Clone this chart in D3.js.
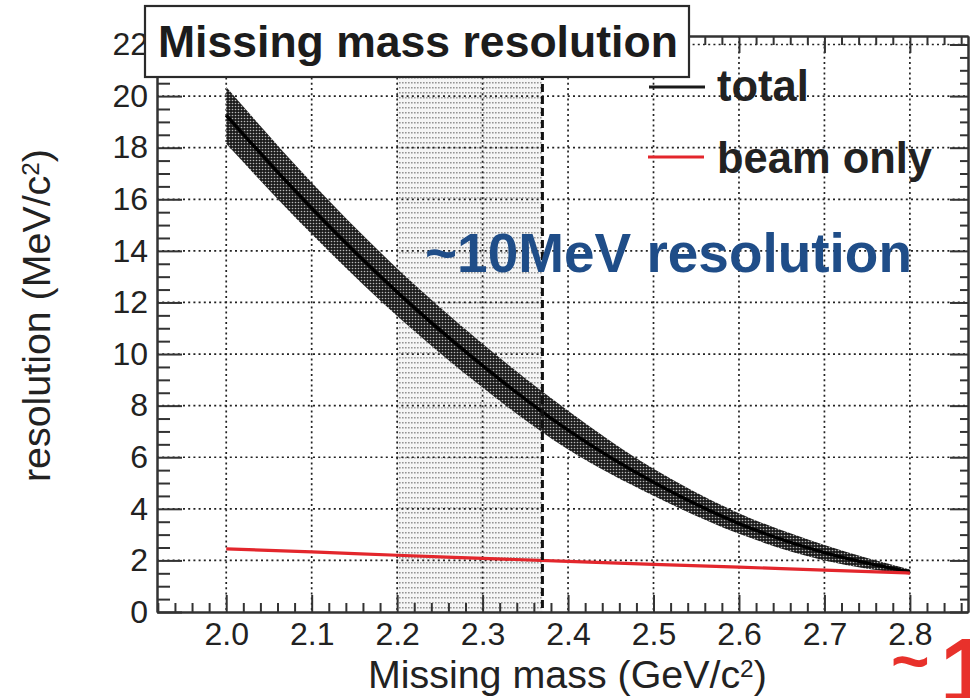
<!DOCTYPE html>
<html><head><meta charset="utf-8">
<script src="https://cdn.jsdelivr.net/npm/d3@7"></script>
<style>html,body{margin:0;padding:0;background:#fff;} svg{display:block;}</style>
</head><body>
<svg id="chart" width="970" height="698"></svg>
<script>
// ---------------- data ----------------
const massPoints   = [2.0, 2.1, 2.2, 2.3, 2.4, 2.5, 2.6, 2.7, 2.8];
const totalRes     = [19.25, 15.65, 12.4, 9.55, 7.05, 5.03, 3.43, 2.3, 1.55];
const totalErr     = [1.1, 1.0, 0.92, 0.85, 0.75, 0.52, 0.4, 0.3, 0.1];
const beamOnlyRes  = [2.45, 2.33, 2.2, 2.08, 1.96, 1.85, 1.74, 1.62, 1.51];
const shadedRange  = [2.2, 2.37];
const xMajorTicks  = [2.0, 2.1, 2.2, 2.3, 2.4, 2.5, 2.6, 2.7, 2.8];
const xTickLabels  = ["2.0", "2.1", "2.2", "2.3", "2.4", "2.5", "2.6", "2.7", "2.8"];
const yMajorTicks  = [0, 2, 4, 6, 8, 10, 12, 14, 16, 18, 20, 22];
const xDomain      = [1.919, 2.868];
const yDomain      = [0, 22.33];
const legendLabels = ["total", "beam only"];
const titleText    = "Missing mass resolution";
const xTitle       = "Missing mass (GeV/c";
const yTitle       = "resolution (MeV/c";
const noteText     = "~10MeV resolution";

// ---------------- layout ----------------
const L = 157, R = 968, T = 36, B = 612;
const FONT = "'Liberation Sans', Arial, Helvetica, sans-serif";
const svg = d3.select("#chart");
svg.append("rect").attr("width", 970).attr("height", 698).attr("fill", "#fff");

const x = d3.scaleLinear().domain(xDomain).range([L, R]);
const y = d3.scaleLinear().domain(yDomain).range([B, T]);

const defs = svg.append("defs");
defs.append("clipPath").attr("id", "plotClip")
  .append("rect").attr("x", L).attr("y", T).attr("width", R - L).attr("height", B - T);

// band pattern (dark dotted)
const bp = defs.append("pattern").attr("id", "bandPat").attr("patternUnits", "userSpaceOnUse")
  .attr("width", 3).attr("height", 3);
bp.append("rect").attr("width", 3).attr("height", 3).attr("fill", "#1c1c1c");
bp.append("circle").attr("cx", 1.5).attr("cy", 1.5).attr("r", 0.8).attr("fill", "#b8b8b8");

// shaded region pattern (light dotted rows)
const sp = defs.append("pattern").attr("id", "shadePat").attr("patternUnits", "userSpaceOnUse")
  .attr("width", 3).attr("height", 5);
sp.append("rect").attr("width", 3).attr("height", 5).attr("fill", "#f5f5f5");
sp.append("rect").attr("x", 0).attr("y", 2).attr("width", 1.6).attr("height", 1.5).attr("fill", "#949494");

const plot = svg.append("g").attr("clip-path", "url(#plotClip)");

// shaded region
plot.append("rect")
  .attr("x", x(shadedRange[0])).attr("y", T)
  .attr("width", x(shadedRange[1]) - x(shadedRange[0])).attr("height", B - T)
  .attr("fill", "url(#shadePat)");

// grid
const grid = plot.append("g").attr("stroke", "#222").attr("stroke-width", 1.7)
  .attr("stroke-dasharray", "2,3.2");
grid.selectAll("line.gx").data(xMajorTicks).join("line").attr("class", "gx")
  .attr("x1", d => x(d)).attr("x2", d => x(d)).attr("y1", T).attr("y2", B);
grid.selectAll("line.gy").data(yMajorTicks.filter(d => d > 0)).join("line").attr("class", "gy")
  .attr("x1", L).attr("x2", R).attr("y1", d => y(d)).attr("y2", d => y(d));

// total band
const pts = massPoints.map((m, i) => ({m, v: totalRes[i], e: totalErr[i], b: beamOnlyRes[i]}));
plot.append("path").datum(pts)
  .attr("d", d3.area().x(d => x(d.m)).y0(d => y(d.v - d.e)).y1(d => y(d.v + d.e)).curve(d3.curveMonotoneX))
  .attr("fill", "url(#bandPat)");
plot.append("path").datum(pts)
  .attr("d", d3.line().x(d => x(d.m)).y(d => y(d.v)).curve(d3.curveMonotoneX))
  .attr("fill", "none").attr("stroke", "#000").attr("stroke-width", 3.5);

// beam only
plot.append("path").datum(pts)
  .attr("d", d3.line().x(d => x(d.m)).y(d => y(d.b)).curve(d3.curveMonotoneX))
  .attr("fill", "none").attr("stroke", "#e3262c").attr("stroke-width", 3.2);

// dashed boundary
plot.append("line")
  .attr("x1", x(shadedRange[1])).attr("x2", x(shadedRange[1])).attr("y1", T).attr("y2", B)
  .attr("stroke", "#111").attr("stroke-width", 3).attr("stroke-dasharray", "8,4");

// ---------------- axes ----------------
const xMinor = d3.range(96, 144).map(i => +(i * 0.02).toFixed(2)).filter(v => v >= xDomain[0] && v <= xDomain[1] && !xMajorTicks.some(t => Math.abs(t - v) < 1e-6));
const yMinor = d3.range(0, 45).map(i => i * 0.5).filter(v => v <= yDomain[1] && v % 2 !== 0);

function styleAxis(g) {
  g.select(".domain").attr("stroke", "#333").attr("stroke-width", 2);
  g.selectAll(".tick line").attr("stroke", "#333").attr("stroke-width", 2);
  g.selectAll("text").attr("font-family", FONT).attr("font-size", 32).attr("fill", "#222");
}

svg.append("g").attr("transform", `translate(0,${B})`)
  .call(d3.axisBottom(x).tickValues(xMajorTicks).tickFormat((d, i) => xTickLabels[i])
    .tickSizeInner(-17).tickSizeOuter(0).tickPadding(10)).call(styleAxis);
svg.append("g").attr("transform", `translate(0,${B})`)
  .call(d3.axisBottom(x).tickValues(xMinor).tickFormat("").tickSizeInner(-9).tickSizeOuter(0)).call(styleAxis);
svg.append("g").attr("transform", `translate(0,${T})`)
  .call(d3.axisTop(x).tickValues(xMajorTicks).tickFormat("").tickSizeInner(-17).tickSizeOuter(0)).call(styleAxis);
svg.append("g").attr("transform", `translate(0,${T})`)
  .call(d3.axisTop(x).tickValues(xMinor).tickFormat("").tickSizeInner(-9).tickSizeOuter(0)).call(styleAxis);

svg.append("g").attr("transform", `translate(${L},0)`)
  .call(d3.axisLeft(y).tickValues(yMajorTicks).tickFormat(d3.format("d"))
    .tickSizeInner(-25).tickSizeOuter(0).tickPadding(9)).call(styleAxis);
svg.append("g").attr("transform", `translate(${L},0)`)
  .call(d3.axisLeft(y).tickValues(yMinor).tickFormat("").tickSizeInner(-13).tickSizeOuter(0)).call(styleAxis);
svg.append("g").attr("transform", `translate(${R},0)`)
  .call(d3.axisRight(y).tickValues(yMajorTicks).tickFormat("").tickSizeInner(-18).tickSizeOuter(0)).call(styleAxis);
svg.append("g").attr("transform", `translate(${R},0)`)
  .call(d3.axisRight(y).tickValues(yMinor).tickFormat("").tickSizeInner(-8).tickSizeOuter(0)).call(styleAxis);

// ---------------- texts ----------------
function fit(sel, w) {
  const l = sel.node().getComputedTextLength();
  const fs = parseFloat(sel.attr("font-size"));
  sel.attr("font-size", fs * w / l);
  return sel;
}

// x title
const xt = svg.append("text").attr("x", 368).attr("y", 688).attr("font-family", FONT)
  .attr("font-size", 40).attr("fill", "#222");
xt.append("tspan").text(xTitle);
xt.append("tspan").attr("dy", "-0.45em").attr("font-size", "0.62em").text("2");
xt.append("tspan").attr("dy", "0.28em").text(")");
fit(xt, 399);

// y title
const yt = svg.append("text").attr("transform", "translate(50,482) rotate(-90)")
  .attr("font-family", FONT).attr("font-size", 40).attr("fill", "#222");
yt.append("tspan").text(yTitle);
yt.append("tspan").attr("dy", "-0.45em").attr("font-size", "0.62em").text("2");
yt.append("tspan").attr("dy", "0.28em").text(")");
fit(yt, 333);

// title box
svg.append("rect").attr("x", 145).attr("y", 6).attr("width", 544).attr("height", 71)
  .attr("fill", "#fff").attr("stroke", "#2a2a2a").attr("stroke-width", 2.2);
const tt = svg.append("text").attr("x", 158).attr("y", 57).attr("font-family", FONT)
  .attr("font-weight", "bold").attr("font-size", 44).attr("fill", "#1c1c1c").text(titleText);
fit(tt, 520);

// legend
svg.append("line").attr("x1", 649).attr("x2", 705).attr("y1", 87).attr("y2", 87)
  .attr("stroke", "#1a1a1a").attr("stroke-width", 3);
svg.append("line").attr("x1", 648).attr("x2", 704).attr("y1", 157).attr("y2", 157)
  .attr("stroke", "#e3262c").attr("stroke-width", 3);
const l1 = svg.append("text").attr("x", 717).attr("y", 101).attr("font-family", FONT)
  .attr("font-weight", "bold").attr("font-size", 43).attr("fill", "#222").text(legendLabels[0]);
const l2 = svg.append("text").attr("x", 717).attr("y", 173).attr("font-family", FONT)
  .attr("font-weight", "bold").attr("font-size", 43).attr("fill", "#222").text(legendLabels[1]);
fit(l2, 215);
l1.attr("font-size", l2.attr("font-size"));

// blue note
const nt = svg.append("text").attr("x", 425).attr("y", 272).attr("font-family", FONT)
  .attr("font-weight", "bold").attr("font-size", 55).attr("fill", "#1f4d88").text(noteText);
fit(nt, 487);

// red clipped note at bottom right
svg.append("text").attr("x", 891).attr("y", 684).attr("font-family", FONT)
  .attr("font-weight", "bold").attr("font-size", 66).attr("fill", "#e8312b").text("~");
svg.append("text").attr("x", 940).attr("y", 703).attr("font-family", FONT)
  .attr("font-weight", "bold").attr("font-size", 92).attr("fill", "#e8312b").text("1");
</script>
</body></html>
